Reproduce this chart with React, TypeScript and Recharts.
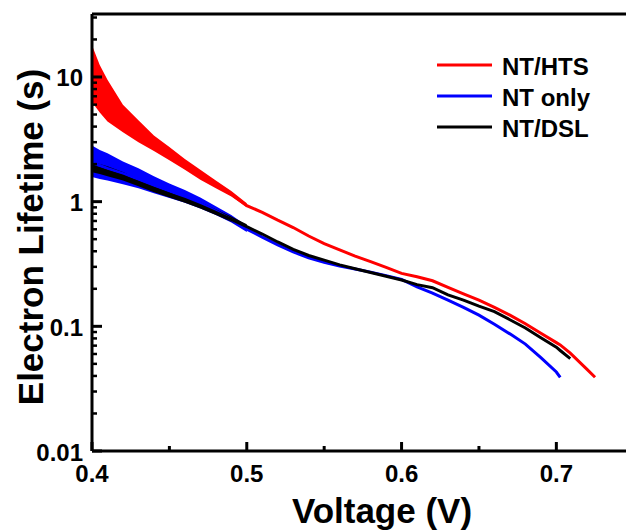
import React from 'react'
import {
  ComposedChart, Line, Area, XAxis, YAxis, ReferenceLine, Legend,
} from 'recharts'

const FONT = '"Liberation Sans", Arial, sans-serif'

// voltage grid (V)
const VOLTAGE = [
  0.4, 0.405, 0.41, 0.42, 0.43, 0.44, 0.45, 0.46, 0.47, 0.48, 0.49,
  0.5, 0.51, 0.52, 0.53, 0.54, 0.55, 0.56, 0.57, 0.58, 0.59,
  0.6, 0.61, 0.62, 0.63, 0.64, 0.65, 0.66, 0.67, 0.68, 0.69,
  0.7, 0.7025, 0.709, 0.72, 0.725,
]

// electron lifetime (s)
const NT_HTS = [
  10, 8, 5.9, 4.3, 3.45, 2.85, 2.38, 1.95, 1.62, 1.36, 1.15,
  0.93, 0.82, 0.71, 0.62, 0.53, 0.46, 0.41, 0.366, 0.33, 0.297,
  0.266, 0.25, 0.232, 0.205, 0.182, 0.162, 0.142, 0.123, 0.105, 0.088,
  0.074, 0.071, 0.061, 0.045, 0.039,
]
const NT_ONLY = [
  2.05, 1.95, 1.85, 1.68, 1.52, 1.36, 1.22, 1.09, 0.97, 0.84, 0.72,
  0.6, 0.52, 0.45, 0.395, 0.355, 0.326, 0.305, 0.288, 0.272, 0.255,
  0.238, 0.207, 0.185, 0.162, 0.142, 0.123, 0.104, 0.087, 0.072, 0.056,
  0.043, 0.039,
]
const NT_DSL = [
  1.9, 1.83, 1.75, 1.6, 1.42, 1.27, 1.15, 1.04, 0.93, 0.82, 0.72,
  0.63, 0.55, 0.475, 0.415, 0.37, 0.34, 0.311, 0.29, 0.27, 0.252,
  0.235, 0.216, 0.204, 0.179, 0.162, 0.145, 0.131, 0.113, 0.097, 0.081,
  0.068, 0.064, 0.055,
]

// noise envelope at low voltage (first points of the grid, 0.40 to 0.50 V)
const HTS_LO = [6.3, 5.2, 4.4, 3.6, 3.0, 2.55, 2.15, 1.8, 1.5, 1.28, 1.1, 0.9]
const HTS_HI = [18, 12.5, 9.5, 6.0, 4.5, 3.4, 2.75, 2.2, 1.8, 1.48, 1.22, 0.97]
const ONLY_LO = [1.58, 1.52, 1.48, 1.38, 1.28, 1.17, 1.07, 0.98, 0.88, 0.78, 0.68, 0.57]
const ONLY_HI = [2.82, 2.6, 2.45, 2.1, 1.85, 1.6, 1.4, 1.24, 1.08, 0.92, 0.78, 0.64]
const DSL_LO = [1.72, 1.67, 1.6, 1.48, 1.33, 1.19, 1.08, 0.98, 0.88, 0.78, 0.69, 0.61]
const DSL_HI = [2.08, 2.0, 1.92, 1.73, 1.52, 1.36, 1.23, 1.1, 0.99, 0.87, 0.76, 0.66]

const X_TICKS = [0.4, 0.45, 0.5, 0.55, 0.6, 0.65, 0.7]
const Y_DECADES = [0.01, 0.1, 1, 10]
const Y_TICKS = Y_DECADES.flatMap(d => [1, 2, 3, 4, 5, 6, 7, 8, 9].map(m => +(d * m).toPrecision(3)))
  .filter(v => v <= 32)

const SERIES = [
  { key: 'only', label: 'NT only', color: '#0000ff' },
  { key: 'dsl', label: 'NT/DSL', color: '#000000' },
  { key: 'hts', label: 'NT/HTS', color: '#ff0000' },
]
const LEGEND_ORDER = ['hts', 'only', 'dsl']

const band = (lo: number[], hi: number[], i: number) =>
  i < lo.length ? [lo[i], hi[i]] : null

const data = VOLTAGE.map((v, i) => ({
  v,
  hts: NT_HTS[i] ?? null,
  only: NT_ONLY[i] ?? null,
  dsl: NT_DSL[i] ?? null,
  htsBand: band(HTS_LO, HTS_HI, i),
  onlyBand: band(ONLY_LO, ONLY_HI, i),
  dslBand: band(DSL_LO, DSL_HI, i),
}))

function XTick({ x, y, payload }: any) {
  const v = payload.value
  const major = Math.abs(v * 10 - Math.round(v * 10)) < 1e-6
  return (
    <g>
      <line x1={x} x2={x} y1={y} y2={y - (major ? 9 : 5)} stroke="#000" strokeWidth={3} />
      {major && (
        <text x={x} y={y + 22} textAnchor="middle" dominantBaseline="central"
          fontFamily={FONT} fontWeight={700} fontSize={24} fill="#000">
          {v.toFixed(1)}
        </text>
      )}
    </g>
  )
}

function YTick({ x, y, payload }: any) {
  const v = payload.value
  const major = Y_DECADES.includes(v)
  return (
    <g>
      <line x1={x} x2={x + (major ? 10 : 5)} y1={y} y2={y} stroke="#000" strokeWidth={major ? 3 : 2.5} />
      {major && (
        <text x={x - 9} y={y + 1} textAnchor="end" dominantBaseline="central"
          fontFamily={FONT} fontWeight={700} fontSize={24} fill="#000">
          {String(v)}
        </text>
      )}
    </g>
  )
}

function LegendBox() {
  return (
    <svg width={190} height={100}>
      {LEGEND_ORDER.map((k, i) => {
        const s = SERIES.find(s => s.key === k)!
        const cy = 15 + i * 31
        return (
          <g key={k}>
            <line x1={7} x2={62} y1={cy} y2={cy} stroke={s.color} strokeWidth={3} />
            <text x={72} y={cy + 1} dominantBaseline="central" fontFamily={FONT}
              fontWeight={700} fontSize={24} fill="#000">{s.label}</text>
          </g>
        )
      })}
    </svg>
  )
}

export default function App() {
  return (
    <div style={{ position: 'absolute', left: 0, top: 0, width: 626, height: 530, background: '#fff' }}>
      <ComposedChart width={626} height={530} data={data}
        margin={{ top: 14, right: 0, bottom: 0, left: 0 }}>
        <XAxis dataKey="v" type="number" domain={[0.4, 0.745]} ticks={X_TICKS} interval={0}
          allowDataOverflow height={79} tickSize={0} tickMargin={0} tickLine={false}
          axisLine={{ stroke: '#000', strokeWidth: 3 }} tick={XTick}
          label={{
            content: () => (
              <text x={382} y={510} textAnchor="middle" dominantBaseline="central"
                fontFamily={FONT} fontWeight={700} fontSize={35} fill="#000">Voltage (V)</text>
            ),
          }} />
        <YAxis type="number" scale="log" domain={[0.01, 32]} ticks={Y_TICKS} interval={0}
          allowDataOverflow width={92} tickSize={0} tickMargin={0} tickLine={false}
          axisLine={{ stroke: '#000', strokeWidth: 3 }} tick={YTick}
          label={{
            content: () => (
              <text x={30} y={237} transform="rotate(-90 30 237)" textAnchor="middle"
                dominantBaseline="central" fontFamily={FONT} fontWeight={700} fontSize={35}
                fill="#000">Electron Lifetime (s)</text>
            ),
          }} />
        <ReferenceLine y={32} stroke="#000" strokeWidth={3} ifOverflow="visible" />
        {SERIES.map(s => (
          <Area key={s.key + 'Band'} dataKey={s.key + 'Band'} type="linear" stroke="none"
            fill={s.color} fillOpacity={1} isAnimationActive={false} activeDot={false}
            legendType="none" />
        ))}
        {SERIES.map(s => (
          <Line key={s.key} dataKey={s.key} name={s.label} type="linear" stroke={s.color}
            strokeWidth={3} dot={false} activeDot={false} isAnimationActive={false} />
        ))}
        <Legend content={LegendBox} layout="vertical" align="center" verticalAlign="middle"
          wrapperStyle={{ left: 430, top: 50, width: 190, height: 100 }} />
      </ComposedChart>
    </div>
  )
}
